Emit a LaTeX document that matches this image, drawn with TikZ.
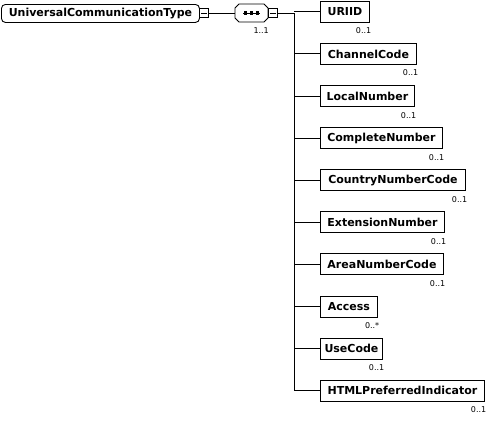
\documentclass[tikz,border=0pt]{standalone}
\usepackage{fontspec}
\setmainfont{DejaVu Sans}
\newfontfamily\boxfont{DejaVu Sans}
\begin{document}
\begin{tikzpicture}[x=1pt,y=-1pt,
  elem/.style={draw, line width=0.9pt, anchor=west, inner sep=0pt, minimum height=21pt,
    font=\boxfont\bfseries\fontsize{11}{13}\selectfont},
  mult/.style={anchor=north east, inner sep=0pt, font=\fontsize{8}{9}\selectfont},
  conn/.style={line width=0.9pt},
  minusbox/.style={draw, line width=0.8pt, fill=white, minimum width=9pt, minimum height=9pt, inner sep=0pt}
]
\useasboundingbox (0,0) rectangle (487,423);
% root
\node[draw, line width=0.9pt, rounded corners=4pt, anchor=north west, minimum width=198pt, minimum height=18pt, inner sep=0pt,
  font=\boxfont\bfseries\fontsize{11}{13}\selectfont] (root) at (1,4) {UniversalCommunicationType};
\node[minusbox, anchor=west] (rminus) at (199,13) {};
\draw[line width=0.8pt] ([xshift=2pt]rminus.west) -- ([xshift=-2pt]rminus.east);
% sequence compositor
\draw[line width=0.9pt] (235,8) -- (239,4) -- (264,4) -- (268,8) -- (268,18) -- (264,22) -- (239,22) -- (235,18) -- cycle;
\node[inner sep=0pt, minimum width=33pt, minimum height=18pt] (seq) at (251.5,13) {};
\draw[line width=0.9pt] (243,13) -- (260,13);
\foreach \dx in {245.5,251.5,257.5} \fill (\dx-1.6,11.4) rectangle (\dx+1.6,14.6);
\node[minusbox, anchor=west] (sminus) at (268,13) {};
\draw[line width=0.8pt] ([xshift=2pt]sminus.west) -- ([xshift=-2pt]sminus.east);
\node[mult] (seqmult) at (269,27) {1..1};
\draw[conn] (rminus.east) -- (seq.west);
\coordinate (bus) at (294,13);
\draw[conn] (sminus.east) -- (bus);
% children
\foreach \name/\right/\lab [count=\i from 0] in {
  URIID/369/0..1,
  ChannelCode/416/0..1,
  LocalNumber/414/0..1,
  CompleteNumber/442/0..1,
  CountryNumberCode/465/0..1,
  ExtensionNumber/444/0..1,
  AreaNumberCode/443/0..1,
  Access/377/0..*,
  UseCode/382/0..1,
  HTMLPreferredIndicator/484/0..1}
{
  \pgfmathsetmacro\cy{11.8+42.1*\i}
  \pgfmathsetmacro\w{\right-320}
  \node[elem, minimum width=\w pt] (c\i) at (320,\cy) {\name};
  \coordinate (b\i) at (294,\cy);
  \draw[conn] (b\i) -- (c\i.west);
  \node[mult] (m\i) at ([xshift=1.5pt,yshift=-5pt]c\i.south east) {\lab};
}
\draw[conn] (bus) -- (b9);
\end{tikzpicture}
\end{document}
